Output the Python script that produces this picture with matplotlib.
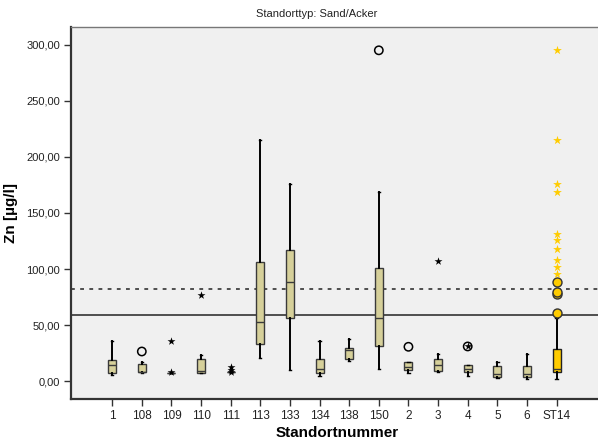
import numpy as np
import matplotlib.pyplot as plt

plt.rcParams['font.family'] = ['Liberation Sans', 'DejaVu Sans']

# Standorte (Kategorien)
sites = ['1', '108', '109', '110', '111', '113', '133', '134', '138', '150',
         '2', '3', '4', '5', '6', 'ST14']

# Boxplot-Kennwerte je Standort
whis_lo = [5.6, 7.0, 7.5, 7.0, 8.0, 20.5, 9.5, 4.7, 17.5, 10.7, 7.4, 8.5, 4.1, 2.7, 1.8, 1.8]
q1      = [7.1, 7.7, 7.5, 7.4, 8.0, 32.7, 56.2, 7.4, 19.9, 31.2, 10.1, 8.9, 8.0, 3.8, 3.8, 8.0]
median  = [14.0, 8.5, 7.5, 8.9, 8.0, 52.3, 88.7, 10.4, 28.0, 56.2, 12.2, 14.0, 10.7, 6.2, 6.2, 11.0]
q3      = [18.7, 15.2, 7.5, 19.6, 8.0, 106.5, 117.0, 19.6, 29.4, 100.9, 17.0, 19.3, 14.0, 13.8, 13.4, 28.5]
whis_hi = [35.4, 17.0, 7.5, 23.5, 8.0, 215.2, 176.0, 35.4, 37.5, 168.7, 17.0, 24.1, 14.6, 17.0, 24.1, 56.2]

# Ausreisser (Kreis) und Extremwerte (Stern)
out_site = ['108', '150', '2', '4']
out_val  = [26.4, 295.2, 30.6, 30.9]
ext_site = ['109', '109', '110', '111', '111', '111', '3', '4']
ext_val  = [35.7, 8.3, 76.4, 12.5, 10.0, 8.0, 107.4, 30.9]

# ST14 (hervorgehoben)
st14_out = [60.7, 77.7, 79.5, 88.7]
st14_ext = [95.8, 101.8, 107.7, 117.8, 125.6, 131.5, 168.4, 175.9, 215.2, 295.5]

line_solid = 58.6
line_dotted = 82.1

box_col = '#d6d09a'
hi_col = '#ffcc00'

fig = plt.figure(figsize=(5.98, 4.42), dpi=100)
ax = fig.add_axes([71 / 598, 1 - 399 / 442, 1 - 71 / 598 + 0.01, (399 - 27) / 442])
ax.set_facecolor('#f0f0f0')

pos = np.arange(len(sites))
stats = []
for i in range(len(sites)):
    stats.append(dict(whislo=whis_lo[i], q1=q1[i], med=median[i], q3=q3[i],
                      whishi=whis_hi[i], fliers=[]))

bp = ax.bxp(stats, positions=pos, widths=0.27, patch_artist=True, showfliers=False,
            capwidths=0.08,
            boxprops=dict(facecolor=box_col, edgecolor='#3a3a3a', linewidth=1.0),
            medianprops=dict(color='#3a3a3a', linewidth=1.0),
            whiskerprops=dict(color='black', linewidth=1.4),
            capprops=dict(color='black', linewidth=1.0), zorder=3)
bp['boxes'][-1].set_facecolor(hi_col)
bp['boxes'][-1].set_edgecolor('#222222')

idx = {s: i for i, s in enumerate(sites)}
ax.scatter([idx[s] for s in out_site], out_val, s=36, facecolors='none',
           edgecolors='black', linewidths=1.1, zorder=4)
ax.scatter([idx[s] for s in ext_site], ext_val, marker='*', s=36, color='black',
           linewidths=0, zorder=5)

ax.scatter([idx['ST14']] * len(st14_out), st14_out, s=42, color=hi_col,
           edgecolors='#333333', linewidths=1.0, zorder=4)
ax.scatter([idx['ST14']] * len(st14_ext), st14_ext, marker='*', s=44, color=hi_col,
           linewidths=0, zorder=5)

ax.axhline(line_solid, color='#222222', linewidth=1.1, zorder=2)
ax.axhline(line_dotted, color='#222222', linewidth=1.1, linestyle=(0, (2.5, 3.5)), zorder=2)

ax.set_xlim(-1.39, 16.6)
ax.set_ylim(-16, 316)
ax.set_xticks(pos)
ax.set_xticklabels(sites, fontsize=8.5)
yt = [0, 50, 100, 150, 200, 250, 300]
ax.set_yticks(yt)
ax.set_yticklabels([f'{v:.2f}'.replace('.', ',') for v in yt], fontsize=8)
ax.tick_params(axis='both', direction='out', length=5, width=1.0, color='#333333',
               labelcolor='#222222', pad=3)

for side in ('left', 'bottom'):
    ax.spines[side].set_linewidth(1.6)
    ax.spines[side].set_color('#333333')
ax.spines['top'].set_color('#777777')
ax.spines['top'].set_linewidth(1.0)
ax.spines['right'].set_visible(False)

ax.set_xlabel('Standortnummer', fontsize=11, fontweight='bold', labelpad=3)
ax.set_ylabel('Zn [µg/l]', fontsize=11, fontweight='bold', labelpad=6)
fig.text(317 / 598, 1 - 14 / 442, 'Standorttyp: Sand/Acker', fontsize=8,
         ha='center', va='center', color='#222222')

fig.savefig('out.png', dpi=100)
